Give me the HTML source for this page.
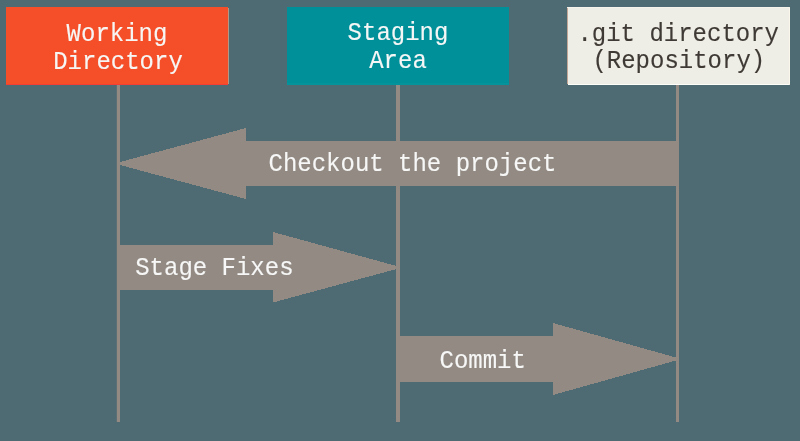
<!DOCTYPE html>
<html>
<head>
<meta charset="utf-8">
<style>
html,body{margin:0;padding:0;width:800px;height:441px;overflow:hidden;background:#4e6a72;}
svg{display:block;}
text{font-family:"Liberation Mono", monospace;font-size:24px;stroke-width:0.12px;}
</style>
</head>
<body>
<svg width="800" height="441" viewBox="0 0 800 441">
<rect x="0" y="0" width="800" height="441" fill="#4e6a72"/>
<!-- boxes -->
<rect x="6" y="7" width="222" height="78" fill="#f44f29"/>
<rect x="228" y="8" width="1" height="76" fill="#c9a48e" opacity="0.8"/>
<rect x="6" y="84" width="222" height="1" fill="#f33e34"/>
<rect x="287" y="7" width="222" height="78" fill="#00909a"/>
<rect x="287" y="83" width="222" height="2" fill="#06959d" opacity="0.6"/>
<rect x="567" y="7" width="223" height="78" fill="#efeee6"/>
<rect x="567" y="8" width="1" height="76" fill="#c4a796"/>
<rect x="568" y="7" width="221" height="1" fill="#f6f4ea"/>
<rect x="789" y="8" width="1" height="76" fill="#f9f7ec"/>
<rect x="568" y="84" width="221" height="1" fill="#fdfdfa"/>
<rect x="567" y="84" width="1" height="1" fill="#4e6a72"/>
<!-- lifelines -->
<rect x="116.8" y="85" width="3.2" height="337" fill="#928a83"/>
<rect x="396" y="85" width="4" height="337" fill="#928a83"/>
<rect x="676" y="85" width="3" height="337" fill="#928a83"/>
<!-- arrows -->
<polygon shape-rendering="crispEdges" points="679,141 246,141 246,128 120,162 120,165 246,199 246,186 679,186" fill="#928a83"/>
<polygon shape-rendering="crispEdges" points="120,245 273,245 273,232 396.5,266 396.5,269 273,302.5 273,290 120,290" fill="#928a83"/>
<polygon shape-rendering="crispEdges" points="400,336 553,336 553,323 676,357.5 676,360.5 553,395 553,382 400,382" fill="#928a83"/>
<!-- text -->
<g opacity="0.999">
<g fill="#f6f7f6" stroke="#f6f7f6" text-anchor="middle">
  <text transform="translate(117,41) scale(1,1.1)">Working</text>
  <text transform="translate(118,69) scale(1,1.1)">Directory</text>
  <text transform="translate(398,40) scale(1,1.1)">Staging</text>
  <text transform="translate(398,68) scale(1,1.1)">Area</text>
</g>
<g fill="#3f3a35" stroke="#3f3a35" text-anchor="middle">
  <text transform="translate(678.2,41) scale(1,1.1)">.git directory</text>
  <text transform="translate(678.8,68.3) scale(1,1.1)">(Repository)</text>
</g>
<g fill="#f6f7f6" stroke="#f6f7f6">
  <text transform="translate(268.5,171.5) scale(1,1.1)">Checkout the project</text>
  <text transform="translate(135.2,275.5) scale(1,1.1)">Stage Fixes</text>
  <text transform="translate(439.5,368) scale(1,1.1)">Commit</text>
</g>
</g>
</svg>
</body>
</html>
